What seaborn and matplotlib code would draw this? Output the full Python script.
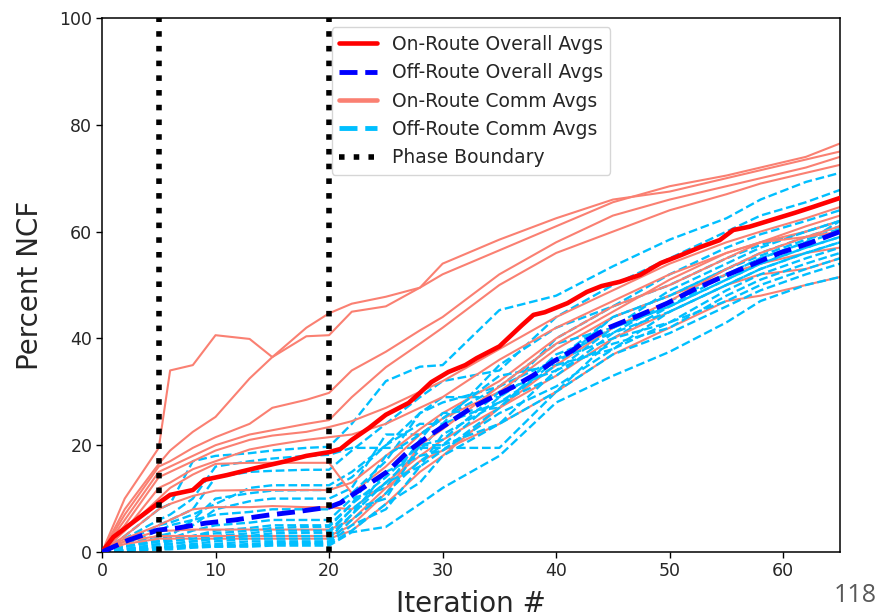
"""
NCF growth per iteration: on-route vs off-route, with phase boundaries.
"""

import matplotlib

matplotlib.use("Agg")
import matplotlib.pyplot as plt
import seaborn as sns
from matplotlib.lines import Line2D

# ---- data ----
# overall averages
ON_AVG_X = [0, 1, 3, 5, 6, 8, 9, 11, 13.5, 16, 18, 20, 21, 22, 23.5, 25, 27, 28, 29, 30.5,
            32, 33, 35, 37, 38, 39, 41, 42.7, 44, 45.6, 47.4, 49.2, 51, 52.7, 54.4, 55.6,
            57, 59, 61, 62.6, 65]
ON_AVG_Y = [0, 2.8, 6, 9.2, 10.7, 11.6, 13.5, 14.4, 15.7, 16.9, 18, 18.7, 19.3, 21, 23.2,
            25.7, 27.9, 29.8, 31.8, 33.7, 35, 36.3, 38.5, 42.5, 44.4, 44.9, 46.6, 48.7, 49.8,
            50.6, 51.9, 54.1, 55.6, 57.1, 58.4, 60.3, 60.9, 62.2, 63.5, 64.6, 66.3]

OFF_AVG_X = [0, 2.3, 4.9, 6.7, 9.1, 11.7, 14.6, 17, 20, 21, 22.7, 25.1, 27.1, 28.9, 30.9,
             32.7, 34.4, 36.2, 38, 39.7, 41.5, 42.4, 44.5, 47.4, 49.8, 52.1, 54.4, 57.1,
             59.7, 62.4, 65]
OFF_AVG_Y = [0, 2.2, 4.1, 4.5, 5.4, 6, 6.9, 7.5, 8.4, 9.2, 11.6, 15, 19.1, 21.9, 24.7,
             27.2, 29, 30.9, 33.1, 35.6, 37.8, 39.3, 41.9, 44.4, 46.6, 49.1, 51.3, 53.7,
             56, 57.9, 60]

# per-comm averages, all sampled at the same iterations
COMM_X = [0, 2, 5, 6, 8, 10, 13, 15, 18, 20, 22, 25, 28, 30, 35, 40, 45, 50, 55, 58, 62, 65]

ON_COMM = [
    [0, 10, 19.5, 34, 35, 40.6, 39.9, 36.5, 40.4, 40.6, 45, 46, 49.5, 52, 56.5, 61, 65.5, 68.5, 70.5, 72, 74, 76.5],
    [0, 8, 16.5, 19, 22.5, 25.3, 32.5, 36.5, 42, 44.7, 46.5, 47.8, 49.5, 54, 58.5, 62.5, 66, 67.5, 70, 71.5, 73.5, 75],
    [0, 7, 16, 17, 19.5, 21.5, 24, 27, 28.5, 29.8, 34, 37.5, 41.5, 44, 52, 58, 63, 66, 68.5, 70, 72, 74],
    [0, 6, 15, 16, 18, 20, 22, 22.8, 24, 24.7, 29, 34.6, 39, 42, 50, 56, 60, 64, 67, 69, 71, 72.5],
    [0, 5, 14, 15, 17, 19, 21, 21.8, 22.5, 23.4, 24.5, 27, 30, 32, 38, 44, 49, 54, 58, 60, 62.5, 64.6],
    [0, 4, 12, 13, 15.5, 17, 19.2, 20, 21, 21.5, 22, 24, 27, 29, 36, 42, 47, 52, 56, 58, 60, 62],
    [0, 4, 10, 12, 14.5, 16.5, 16.7, 16.7, 16.7, 16.7, 11, 16, 22, 25, 30, 38, 44, 48, 52, 54, 56, 57],
    [0, 3, 8, 9, 10.5, 11.5, 11.6, 11.6, 11.6, 11.6, 13, 18, 23, 26, 32, 40, 46, 50, 55, 58, 59, 61],
    [0, 2.5, 5, 6, 8, 8.4, 8.4, 8.6, 8.4, 8.4, 8, 13, 18, 21, 27, 33, 40, 45, 50, 52, 53, 55],
    [0, 2, 4, 4, 4.2, 4.2, 4.2, 4.2, 4.2, 4.2, 6, 12, 17, 19, 24, 30, 37, 42, 47, 48, 50, 51.5],
    [0, 1.5, 2.5, 2.5, 2.5, 2.5, 2.5, 2.5, 2.5, 2.5, 4, 9, 15, 18, 27, 35, 42, 47, 53, 56, 59, 60],
    [0, 2, 3, 3, 3, 3, 3, 3, 3, 3, 5, 11, 20, 23, 31, 39, 45, 51, 56, 58, 61, 63],
]

OFF_COMM = [
    [0, 3, 8, 9, 17, 18, 18.5, 19, 19.5, 19.7, 24, 32, 34.7, 35, 45.3, 48, 53.5, 58.5, 62.5, 66, 69.3, 71],
    [0, 2.5, 6, 7, 10, 16, 17, 17.5, 18, 18.2, 19.5, 19.5, 19.5, 19.5, 19.5, 30, 40, 46, 52, 55, 58, 62],
    [0, 2, 5, 6, 8, 14, 15, 15.2, 15.4, 15.4, 19, 24, 29, 32, 34, 44, 50, 55, 60, 63, 65.5, 67.8],
    [0, 2, 5, 5.5, 7, 9, 12, 12.5, 12.5, 12.5, 15, 20, 26, 29, 29, 40, 46, 50, 55, 57.5, 60, 62],
    [0, 1.5, 4, 5, 6, 10, 11, 11.5, 11.6, 11.6, 14, 20, 24, 24, 35, 42, 46, 52, 57, 59.5, 62, 64],
    [0, 1.5, 3, 3.5, 5, 8, 9.5, 10, 10, 10, 12, 22, 22, 25, 31, 36, 44, 48, 53, 56, 59, 61],
    [0, 1, 2.5, 3, 6, 7, 7.5, 8, 8, 8, 11, 17, 26, 28, 31, 39, 42, 49, 54, 57, 60, 62],
    [0, 1, 2, 2.5, 4, 5, 5.5, 6, 6, 6, 10, 12, 21, 26, 27, 37, 41, 47, 52, 55, 58, 60],
    [0, 1, 2, 2.5, 3, 4, 4.5, 5, 5, 5, 9, 14, 20, 20, 29, 36, 42, 46, 51, 54, 57, 59],
    [0, 1, 2, 2, 3, 3.5, 4, 4.5, 4.7, 4.7, 9, 18, 22, 25, 33, 35, 44, 48, 53, 55.5, 58.5, 60.5],
    [0, 0.5, 1.5, 2, 2.5, 3, 3.5, 4, 4, 4, 8, 13, 19, 24, 28, 35, 38, 45, 50, 53, 56, 58],
    [0, 0.5, 1.5, 1.5, 2, 2.5, 3, 3.5, 3.6, 3.6, 8, 10, 20, 21, 30, 34, 42, 46, 51, 54, 57, 59],
    [0, 0.5, 1, 1.5, 2, 2.5, 3, 3, 3, 3, 7, 15, 18, 19, 27, 36, 40, 43, 49, 52, 55, 57],
    [0, 0.5, 1, 1, 1.5, 2, 2.5, 2.5, 2.5, 2.5, 7, 13, 16, 22, 28, 33, 41, 45, 50, 53, 56, 58],
    [0, 0.3, 0.8, 1, 1.2, 1.5, 2, 2, 2, 2, 6, 11, 17, 20, 24, 34, 39, 42, 48, 51, 54, 56],
    [0, 0.3, 0.8, 1, 1, 1.2, 1.5, 1.7, 1.7, 1.7, 5, 8, 16, 19, 26, 31, 38, 43, 47, 50, 53, 55],
    [0, 0.3, 0.5, 0.8, 1, 1, 1.2, 1.5, 1.5, 1.5, 4, 9, 13, 18, 24, 30, 37, 41, 46, 49, 52, 54],
    [0, 0.2, 0.5, 0.5, 0.8, 1, 1, 1.2, 1.2, 1.2, 3.7, 4.7, 9, 12, 18, 28, 33, 37.5, 43, 47, 50, 51.5],
]

PHASE_BOUNDS = [5, 20]
X_TICKS = [0, 10, 20, 30, 40, 50, 60]
Y_TICKS = [0, 20, 40, 60, 80, 100]
LEGEND_LABELS = ["On-Route Overall Avgs", "Off-Route Overall Avgs",
                 "On-Route Comm Avgs", "Off-Route Comm Avgs", "Phase Boundary"]

sns.set_style("ticks")
plt.rcParams["font.family"] = ["DejaVu Sans"]

fig = plt.figure(figsize=(8.81, 6.15), dpi=100)
ax = fig.add_axes([102 / 881, 63 / 615, 738 / 881, 534 / 615])

# comm lines, interleaved so neither colour sits fully on top
for i in range(max(len(ON_COMM), len(OFF_COMM))):
    if i < len(ON_COMM):
        sns.lineplot(x=COMM_X, y=ON_COMM[i], ax=ax, color="salmon", lw=1.5,
                     estimator=None, errorbar=None, zorder=2)
    if i < len(OFF_COMM):
        sns.lineplot(x=COMM_X, y=OFF_COMM[i], ax=ax, color="deepskyblue", lw=1.7,
                     linestyle="--", estimator=None, errorbar=None, zorder=2)

sns.lineplot(x=ON_AVG_X, y=ON_AVG_Y, ax=ax, color="red", lw=3.3,
             estimator=None, errorbar=None, zorder=3)
sns.lineplot(x=OFF_AVG_X, y=OFF_AVG_Y, ax=ax, color="blue", lw=3.5, linestyle="--",
             estimator=None, errorbar=None, zorder=3)

for xb in PHASE_BOUNDS:
    ax.axvline(xb, color="black", lw=4, linestyle=":", zorder=4)

ax.set_xlim(0, 65)
ax.set_ylim(0, 100)
ax.set_xticks(X_TICKS)
ax.set_yticks(Y_TICKS)
ax.tick_params(labelsize=12.5, length=4, width=1, pad=3, color="black")
for sp in ax.spines.values():
    sp.set_linewidth(1.1)
    sp.set_color("black")

ax.set_xlabel("Iteration #", fontsize=20, va="baseline")
ax.xaxis.set_label_coords(0.5, -(612 - 552) / 534)
ax.set_ylabel("Percent NCF", fontsize=20, va="center")
ax.yaxis.set_label_coords(-72 / 738, 0.5)

handles = [
    Line2D([], [], color="red", lw=3.3),
    Line2D([], [], color="blue", lw=3.5, linestyle="--"),
    Line2D([], [], color="salmon", lw=3.3),
    Line2D([], [], color="deepskyblue", lw=3.5, linestyle="--"),
    Line2D([], [], color="black", lw=4, linestyle=":"),
]
ax.legend(handles, LEGEND_LABELS, loc="upper center", fontsize=13.5, frameon=True,
          fancybox=True, framealpha=0.8, edgecolor="0.8", labelspacing=0.5)

fig.text(877 / 881, 13 / 615, "118", ha="right", va="baseline", fontsize=18,
         color="#595959", family=["Open Sans", "DejaVu Sans"])

fig.savefig("out.png", dpi=100)
plt.close(fig)
